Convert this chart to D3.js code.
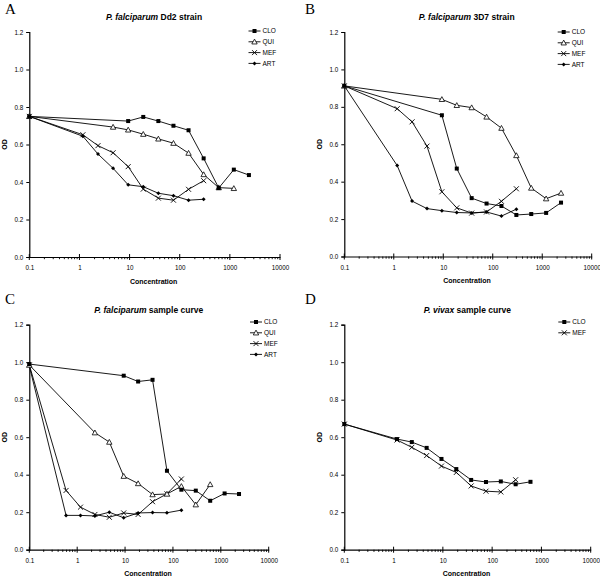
<!DOCTYPE html>
<html>
<head>
<meta charset="utf-8">
<script src="https://cdn.jsdelivr.net/npm/d3@7/dist/d3.min.js"></script>
<style>
  html, body { margin: 0; padding: 0; background: #fff; }
  svg { display: block; font-family: "Liberation Sans", Arial, sans-serif; }
</style>
</head>
<body>
<svg id="chart" width="600" height="579"></svg>
<script>
// ---------- DATA ----------
const xTickLabels = ["0.1", "1", "10", "100", "1000", "10000"];
const yTickLabels = ["0.0", "0.2", "0.4", "0.6", "0.8", "1.0", "1.2"];
const seriesNames4 = ["CLO", "QUI", "MEF", "ART"];
const seriesNames2 = ["CLO", "MEF"];

// Panel A: P. falciparum Dd2 strain
const concA = [0.1, 1.171875, 2.34375, 4.6875, 9.375, 18.75, 37.5, 75, 150, 300, 600, 1200, 2400];
const A_CLO = [0.750, null, null, null, 0.725, 0.747, 0.725, 0.700, 0.676, 0.526, 0.368, 0.466, 0.437];
const A_QUI = [0.750, null, null, 0.693, 0.678, 0.655, 0.630, 0.607, 0.554, 0.440, 0.370, 0.366, null];
const A_MEF = [0.750, 0.652, 0.594, 0.556, 0.482, 0.362, 0.314, 0.303, 0.361, 0.407, null, null, null];
const A_ART = [0.750, 0.644, 0.549, 0.473, 0.385, 0.375, 0.340, 0.327, 0.303, 0.308, null, null, null];

// Panel B: P. falciparum 3D7 strain
const concB = [0.1, 1.171875, 2.34375, 4.6875, 9.375, 18.75, 37.5, 75, 150, 300, 600, 1200, 2400];
const B_CLO = [0.912, null, null, null, 0.755, 0.470, 0.312, 0.283, 0.270, 0.222, 0.227, 0.233, 0.288];
const B_QUI = [0.912, null, null, null, 0.840, 0.808, 0.796, 0.746, 0.686, 0.540, 0.366, 0.309, 0.339];
const B_MEF = [0.912, 0.790, 0.720, 0.590, 0.346, 0.260, 0.232, 0.238, 0.295, 0.362, null, null, null];
const B_ART = [0.912, 0.486, 0.296, 0.256, 0.245, 0.235, 0.233, 0.238, 0.216, 0.253, null, null, null];

// Panel C: P. falciparum sample curve
const concC = [0.1, 0.5859375, 1.171875, 2.34375, 4.6875, 9.375, 18.75, 37.5, 75, 150, 300, 600, 1200, 2400];
const C_CLO = [0.990, null, null, null, null, 0.928, 0.897, 0.906, 0.421, 0.320, 0.315, 0.261, 0.300, 0.297];
const C_QUI = [0.985, null, null, 0.624, 0.574, 0.392, 0.353, 0.294, 0.297, 0.338, 0.240, 0.348, null, null];
const C_MEF = [0.985, 0.316, 0.227, 0.188, 0.173, 0.196, 0.188, 0.256, 0.298, 0.377, null, null, null, null];
const C_ART = [0.980, 0.183, 0.183, 0.180, 0.200, 0.170, 0.196, 0.198, 0.197, 0.211, null, null, null, null];

// Panel D: P. vivax sample curve
const concD = [0.1, 1.171875, 2.34375, 4.6875, 9.375, 18.75, 37.5, 75, 150, 300, 600];
const D_CLO = [0.670, 0.590, 0.574, 0.543, 0.484, 0.430, 0.372, 0.361, 0.364, 0.349, 0.362];
const D_MEF = [0.670, 0.585, 0.546, 0.502, 0.446, 0.412, 0.340, 0.312, 0.308, 0.373, null];

// ---------- LAYOUT ----------
const panels = [
  { letter: "A", it: "P. falciparum", rest: " Dd2 strain", conc: concA,
    series: [A_CLO, A_QUI, A_MEF, A_ART], names: seriesNames4,
    x0: 29.3, x1: 280, yTop: 32, yBot: 257, ox: 0, oy: 0, odX: 7,
    titleX: 154, titleY: 19.5, legX: 248.5, legY: 31 },
  { letter: "B", it: "P. falciparum", rest: " 3D7 strain", conc: concB,
    series: [B_CLO, B_QUI, B_MEF, B_ART], names: seriesNames4,
    x0: 344.3, x1: 591.7, yTop: 32, yBot: 256.5, ox: 300, oy: 0, odX: 321.5,
    titleX: 466.7, titleY: 19.5, legX: 557.7, legY: 32 },
  { letter: "C", it: "P. falciparum", rest: " sample curve", conc: concC,
    series: [C_CLO, C_QUI, C_MEF, C_ART], names: seriesNames4,
    x0: 29.3, x1: 268.7, yTop: 324.7, yBot: 549.7, ox: 0, oy: 290, odX: 6.5,
    titleX: 148.7, titleY: 313, legX: 250, legY: 322 },
  { letter: "D", it: "P. vivax", rest: " sample curve", conc: concD,
    series: [D_CLO, D_MEF], names: seriesNames2,
    x0: 344.3, x1: 590.7, yTop: 324.7, yBot: 549.7, ox: 300, oy: 290, odX: 321.5,
    titleX: 467.3, titleY: 313, legX: 558.3, legY: 322 }
];

const svg = d3.select("#chart");

function drawMarker(g, name, x, y) {
  if (name === "CLO") {
    g.append("rect").attr("x", x - 2).attr("y", y - 2).attr("width", 4).attr("height", 4)
      .attr("fill", "#000");
  } else if (name === "QUI") {
    const s = 2.7;
    g.append("path").attr("d", `M${x},${y - s} L${x + s},${y + s * 0.8} L${x - s},${y + s * 0.8} Z`)
      .attr("fill", "#fff").attr("stroke", "#000").attr("stroke-width", 0.8);
  } else if (name === "MEF") {
    const s = 2.5;
    g.append("path").attr("d", `M${x - s},${y - s} L${x + s},${y + s} M${x - s},${y + s} L${x + s},${y - s}`)
      .attr("stroke", "#000").attr("stroke-width", 0.9).attr("fill", "none");
  } else {
    const s = 2;
    g.append("path").attr("d", `M${x},${y - s} L${x + s},${y} L${x},${y + s} L${x - s},${y} Z`)
      .attr("fill", "#000");
  }
}

panels.forEach(p => {
  const x = d3.scaleLog().domain([0.1, 10000]).range([p.x0, p.x1]);
  const y = d3.scaleLinear().domain([0, 1.2]).range([p.yBot, p.yTop]);
  const g = svg.append("g");

  // panel letter
  g.append("text").attr("x", p.ox + 5).attr("y", p.oy + 14)
    .attr("font-family", "'Liberation Serif', 'Times New Roman', serif")
    .attr("font-size", 15).text(p.letter);

  // title
  const t = g.append("text").attr("x", p.titleX).attr("y", p.titleY)
    .attr("text-anchor", "middle").attr("font-size", 8.5).attr("font-weight", "bold");
  t.append("tspan").attr("font-style", "italic").text(p.it);
  t.append("tspan").text(p.rest);

  // x axis
  const majors = [0.1, 1, 10, 100, 1000, 10000];
  const xAxis = d3.axisBottom(x)
    .tickValues(majors)
    .tickFormat((d, i) => xTickLabels[i])
    .tickSize(0).tickPadding(9);
  const gx = g.append("g").attr("transform", `translate(0,${p.yBot})`).call(xAxis);
  gx.select(".domain").attr("stroke", "#000").attr("stroke-width", 1.2);
  gx.selectAll("text").attr("font-size", 6.3).attr("font-family", "'Liberation Sans', Arial, sans-serif");
  majors.forEach(v => {
    gx.append("line").attr("x1", x(v)).attr("x2", x(v)).attr("y1", -3).attr("y2", 3)
      .attr("stroke", "#000").attr("stroke-width", 1);
  });
  for (let dec = 0.1; dec < 10000; dec *= 10) {
    for (let k = 2; k <= 9; k++) {
      const v = dec * k;
      gx.append("line").attr("x1", x(v)).attr("x2", x(v)).attr("y1", 0).attr("y2", 2.2)
        .attr("stroke", "#000").attr("stroke-width", 0.9);
    }
  }

  // y axis
  const yAxis = d3.axisLeft(y)
    .tickValues([0, 0.2, 0.4, 0.6, 0.8, 1.0, 1.2])
    .tickFormat((d, i) => yTickLabels[i])
    .tickSize(3).tickPadding(3);
  const gy = g.append("g").attr("transform", `translate(${p.x0},0)`).call(yAxis);
  gy.select(".domain").attr("stroke", "#000").attr("stroke-width", 1.2);
  gy.selectAll(".tick line").attr("stroke", "#000");
  gy.selectAll("text").attr("font-size", 6.3).attr("font-family", "'Liberation Sans', Arial, sans-serif");

  // axis titles
  g.append("text").attr("x", (p.x0 + p.x1) / 2 - 1).attr("y", p.yBot + 26.5)
    .attr("text-anchor", "middle").attr("font-size", 7).attr("font-weight", "bold")
    .text("Concentration");
  const odY = (p.yTop + p.yBot) / 2;
  g.append("text").attr("transform", `translate(${p.odX},${odY}) rotate(-90)`)
    .attr("text-anchor", "middle").attr("font-size", 7).attr("font-weight", "bold")
    .text("OD");

  // series
  const line = d3.line().x(d => x(d[0])).y(d => y(d[1]));
  const order = p.names.map((n, i) => i).reverse();
  order.forEach(si => {
    const vals = p.series[si];
    const pts = p.conc.map((c, i) => [c, vals[i]]).filter(d => d[1] !== null);
    g.append("path").attr("d", line(pts)).attr("fill", "none")
      .attr("stroke", "#000").attr("stroke-width", 0.9);
  });
  order.forEach(si => {
    const vals = p.series[si];
    const pts = p.conc.map((c, i) => [c, vals[i]]).filter(d => d[1] !== null);
    pts.forEach(d => drawMarker(g, p.names[si], x(d[0]), y(d[1])));
  });

  // legend
  p.names.forEach((n, i) => {
    const ly = p.legY + i * 10.8;
    g.append("line").attr("x1", p.legX).attr("x2", p.legX + 12).attr("y1", ly).attr("y2", ly)
      .attr("stroke", "#000").attr("stroke-width", 0.9);
    drawMarker(g, n, p.legX + 6, ly);
    g.append("text").attr("x", p.legX + 14).attr("y", ly + 2.3)
      .attr("font-size", 6.5).text(n);
  });
});
</script>
</body>
</html>
